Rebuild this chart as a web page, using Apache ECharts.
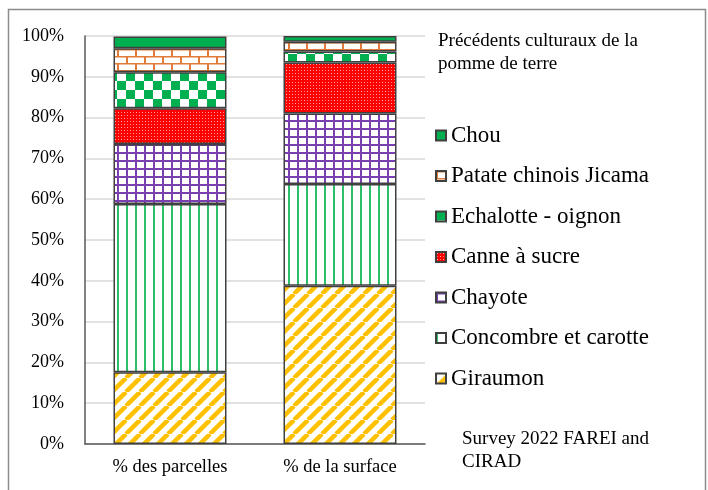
<!DOCTYPE html>
<html>
<head>
<meta charset="utf-8">
<script src="https://cdn.jsdelivr.net/npm/echarts@6/dist/echarts.min.js"></script>
<style>
html, body { margin: 0; padding: 0; background: #fff; }
#chart { width: 708px; height: 490px; }
</style>
</head>
<body>
<div id="chart"></div>
<script>
// données (en %)
var categories = ['% des parcelles', '% de la surface'];
var names = ['Giraumon', 'Concombre et carotte', 'Chayote', 'Canne à sucre', 'Echalotte - oignon', 'Patate chinois Jicama', 'Chou'];
var giraumon = [17.6, 38.8];
var concombre = [41.2, 24.9];
var chayote = [14.7, 17.3];
var canne = [8.8, 12.5];
var echalotte = [8.8, 2.7];
var patate = [5.9, 2.4];
var chou = [2.9, 1.4];
var yTicks = [0, 10, 20, 30, 40, 50, 60, 70, 80, 90, 100];

// motifs de remplissage
function motif(w, h, draw) {
    var c = document.createElement('canvas');
    c.width = w; c.height = h;
    var ctx = c.getContext('2d');
    ctx.fillStyle = '#fff';
    ctx.fillRect(0, 0, w, h);
    draw(ctx, w, h);
    return { image: c, repeat: 'repeat' };
}

var fillGiraumon = motif(14, 14, function (ctx, w, h) {
    ctx.strokeStyle = '#FFC000';
    ctx.lineWidth = 4.5;
    [-w, 0, w].forEach(function (k) {
        ctx.beginPath();
        ctx.moveTo(k, h);
        ctx.lineTo(k + w, 0);
        ctx.stroke();
    });
});
var fillConcombre = motif(9, 4, function (ctx, w, h) {
    ctx.fillStyle = '#2DBE6A';
    ctx.fillRect(0, 0, 2, h);
});
var fillChayote = motif(9, 8, function (ctx, w, h) {
    ctx.fillStyle = '#7A3FB0';
    ctx.fillRect(0, 0, 2, h);
    ctx.fillRect(0, 0, w, 2);
});
var fillCanne = motif(6, 6, function (ctx, w, h) {
    ctx.fillStyle = '#FF0000';
    ctx.fillRect(0, 0, w, h);
    ctx.fillStyle = 'rgba(255,255,255,0.7)';
    ctx.fillRect(1, 1, 1, 1);
    ctx.fillRect(4, 4, 1, 1);
    ctx.fillStyle = 'rgba(255,255,255,0.45)';
    ctx.fillRect(4, 1, 1, 1);
    ctx.fillRect(1, 4, 1, 1);
});
var fillEchalotte = motif(18, 18, function (ctx, w, h) {
    ctx.fillStyle = '#00B050';
    ctx.fillRect(0, 0, 9, 9);
    ctx.fillRect(9, 9, 9, 9);
});
var fillPatate = motif(18, 14, function (ctx, w, h) {
    ctx.fillStyle = '#E07B39';
    ctx.fillRect(0, 0, w, 1.5);
    ctx.fillRect(0, 7, w, 1.5);
    ctx.fillRect(0, 0, 2, 7);
    ctx.fillRect(9, 7, 2, 7);
});
var fillChou = '#00B050';

var fills = [fillGiraumon, fillConcombre, fillChayote, fillCanne, fillEchalotte, fillPatate, fillChou];
var values = [giraumon, concombre, chayote, canne, echalotte, patate, chou];

var series = [];
for (var i = 0; i < names.length; i++) {
    series.push({
        name: names[i],
        type: 'bar',
        stack: 'total',
        barWidth: 113,
        data: values[i],
        itemStyle: {
            color: fills[i],
            borderColor: '#404040',
            borderWidth: 1.5
        },
        emphasis: { disabled: true }
    });
}

var myChart = echarts.init(document.getElementById('chart'));
var option = {
    animation: false,
    textStyle: { fontFamily: 'Liberation Serif' },
    grid: {
        left: 85,
        right: 283,
        top: 36,
        bottom: 46
    },
    legend: {
        data: names.slice().reverse(),
        orient: 'vertical',
        left: 430,
        top: 118,
        icon: 'rect',
        itemWidth: 10,
        itemHeight: 10,
        itemGap: 15.5,
        textStyle: {
            fontFamily: 'Liberation Serif',
            fontSize: 23,
            color: '#000',
            lineHeight: 25
        }
    },
    xAxis: {
        type: 'category',
        data: categories,
        axisLine: { lineStyle: { color: '#595959', width: 1.5 } },
        axisTick: { show: false },
        axisLabel: {
            fontFamily: 'Liberation Serif',
            fontSize: 18.5,
            color: '#000',
            margin: 14
        }
    },
    yAxis: {
        type: 'value',
        min: yTicks[0],
        max: yTicks[yTicks.length - 1],
        interval: 10,
        axisLine: { show: true, lineStyle: { color: '#595959', width: 1.5 } },
        axisTick: { show: false },
        axisLabel: {
            fontFamily: 'Liberation Serif',
            fontSize: 18,
            color: '#000',
            margin: 21,
            formatter: '{value}%'
        },
        splitLine: {
            lineStyle: { color: '#d9d9d9', width: 1.5 }
        }
    },
    graphic: [
        {
            type: 'rect',
            shape: { x: 8.5, y: 9.5, width: 697, height: 500 },
            style: { fill: 'none', stroke: '#8c8c8c', lineWidth: 1.5 },
            silent: true,
            z: -1
        },
        {
            type: 'text',
            left: 438,
            top: 30,
            style: {
                text: 'Précédents culturaux de la\npomme de terre',
                font: '19px "Liberation Serif"',
                lineHeight: 23,
                fill: '#000'
            }
        },
        {
            type: 'text',
            left: 462,
            top: 428,
            style: {
                text: 'Survey 2022 FAREI and\nCIRAD',
                font: '19px "Liberation Serif"',
                lineHeight: 23,
                fill: '#000'
            }
        }
    ],
    series: series
};
myChart.setOption(option);
</script>
</body>
</html>
